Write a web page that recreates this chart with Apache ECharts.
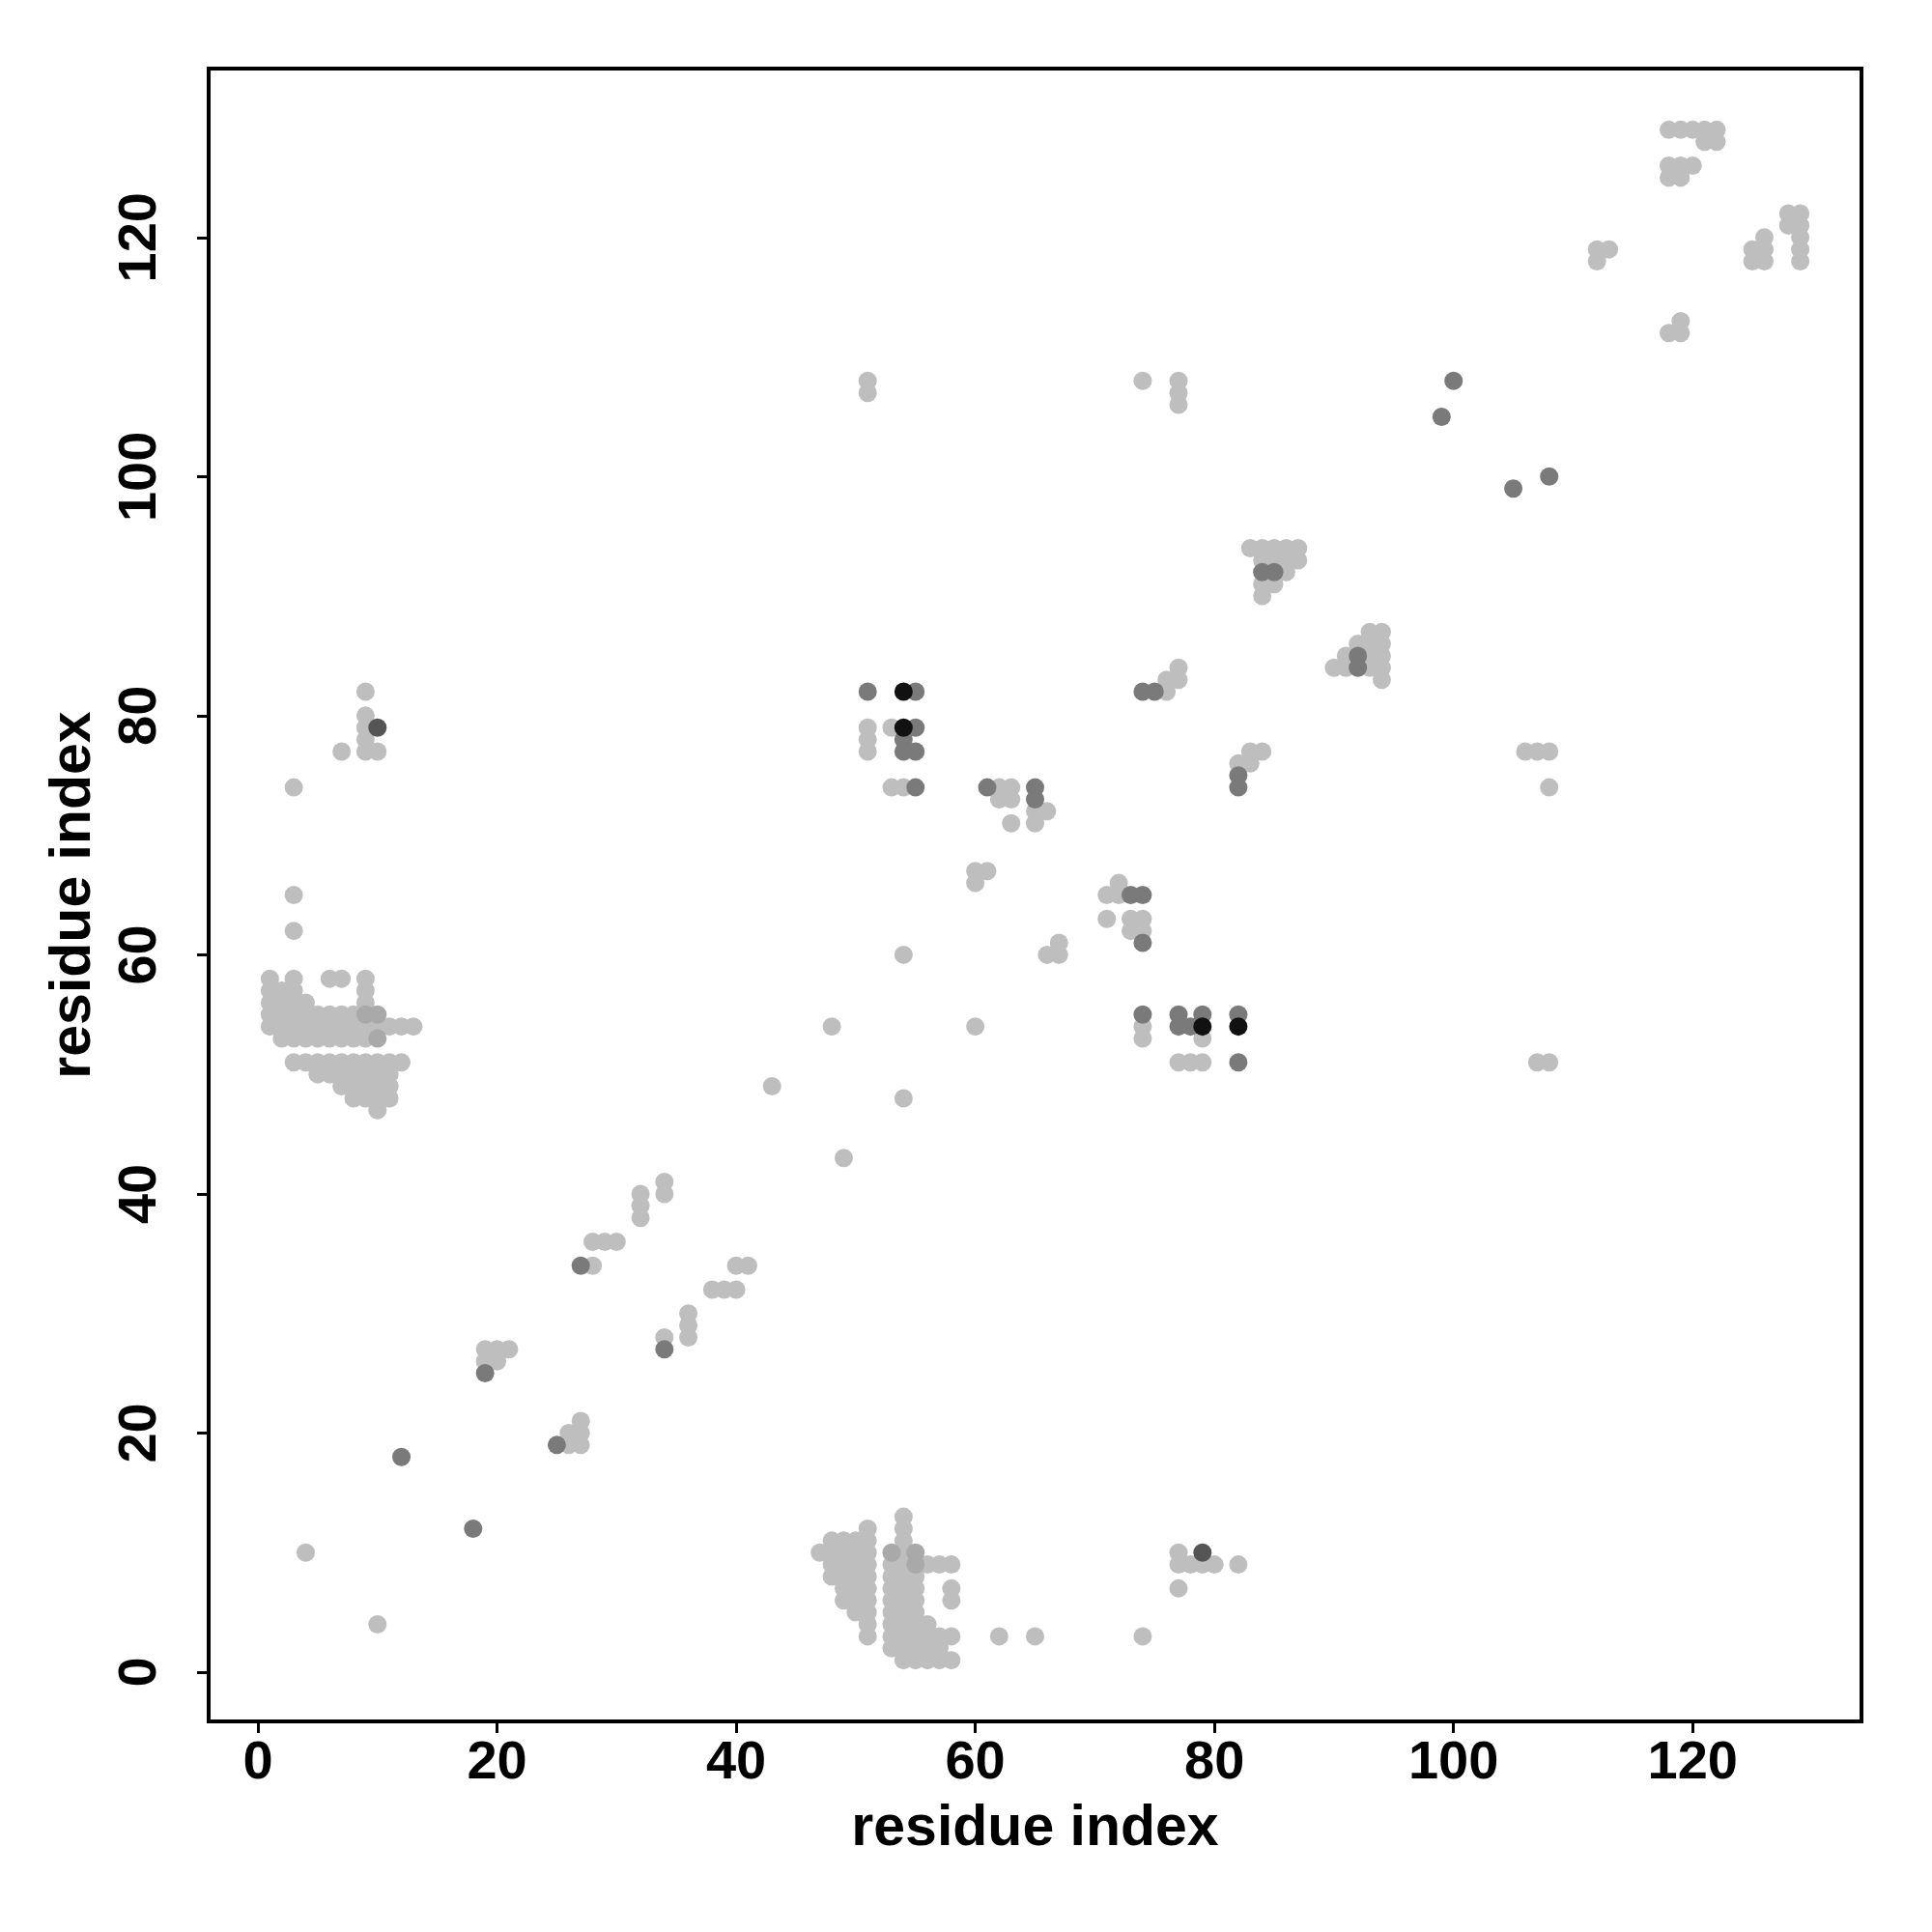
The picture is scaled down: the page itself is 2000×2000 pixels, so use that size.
<!DOCTYPE html>
<html>
<head>
<meta charset="utf-8">
<script src="https://cdn.jsdelivr.net/npm/echarts@6/dist/echarts.min.js"></script>
<style>html,body{margin:0;padding:0;background:#fff}#c{width:2000px;height:2000px}</style>
</head>
<body>
<div id="c"></div>
<script>
// Tick labels
const xTicks = [0, 20, 40, 60, 80, 100, 120];
const yTicks = [0, 20, 40, 60, 80, 100, 120];

// Light grey contacts [residue i, residue j]
const lightPts = [
  // lower-left cluster
  [1,58],[3,58],[6,58],[7,58],[9,58],
  [1,57],[2,57],[3,57],[9,57],
  [1,56],[2,56],[3,56],[4,56],[9,56],
  [1,55],[2,55],[3,55],[4,55],[5,55],[6,55],[7,55],[8,55],
  [1,54],[2,54],[3,54],[4,54],[5,54],[6,54],[7,54],[8,54],[9,54],[10,54],[11,54],[12,54],[13,54],
  [2,53],[3,53],[4,53],[5,53],[6,53],[7,53],[8,53],[9,53],
  [3,51],[4,51],[5,51],[6,51],[7,51],[8,51],[9,51],[10,51],[11,51],[12,51],
  [5,50],[6,50],[7,50],[8,50],[9,50],[10,50],[11,50],
  [7,49],[8,49],[9,49],[10,49],[11,49],
  [8,48],[9,48],[10,48],[11,48],
  [10,47],
  [3,62],[3,65],[3,74],[7,77],[9,77],[9,78],[9,79],[9,80],[9,82],[10,77],
  [4,10],[10,4],
  // diagonal
  [26,19],[26,20],[27,19],[27,20],[27,21],[19,26],[20,26],[19,27],[20,27],[21,27],
  [28,34],[28,36],[29,36],[30,36],[32,38],[32,39],[32,40],[34,40],[34,41],
  [34,28],[36,28],[36,29],[36,30],[38,32],[39,32],[40,32],[40,34],[41,34],
  [43,49],[49,43],[48,54],[54,48],[54,60],[60,54],
  // bottom cluster
  [47,10],
  [48,8],[48,9],[48,10],[48,11],
  [49,6],[49,7],[49,8],[49,9],[49,10],[49,11],
  [50,5],[50,6],[50,7],[50,8],[50,9],[50,10],[50,11],
  [51,3],[51,4],[51,5],[51,6],[51,7],[51,8],[51,9],[51,10],[51,11],[51,12],
  [53,2],[53,3],[53,4],[53,5],[53,6],[53,7],[53,8],[53,9],
  [54,1],[54,2],[54,3],[54,4],[54,5],[54,6],[54,7],[54,8],[54,9],[54,10],[54,11],[54,12],[54,13],
  [55,1],[55,2],[55,3],[55,4],[55,5],[55,6],[55,7],[55,8],
  [56,1],[56,2],[56,3],[56,4],[56,9],
  [57,1],[57,2],[57,3],[57,9],
  [58,1],[58,3],[58,6],[58,7],[58,9],
  [62,3],[65,3],[74,3],[77,7],[77,9],[77,10],[78,9],[79,9],[80,9],[82,9],
  // middle
  [51,77],[51,78],[51,79],[53,79],[53,74],[54,74],
  [62,74],[63,74],[62,73],[63,73],[65,72],[66,72],[63,71],[65,71],
  [60,67],[61,67],[60,66],[66,60],[67,60],[67,61],
  [51,107],[51,108],[74,108],[77,106],[77,107],[77,108],
  [71,65],[72,65],[72,66],[71,63],[73,63],[74,63],[73,62],[74,62],
  [74,54],[74,53],[79,53],[77,51],[78,51],[79,51],
  [76,82],[76,83],[77,83],[77,84],
  [82,76],[83,76],[83,77],[84,77],
  [83,94],[84,94],[85,94],[86,94],[87,94],[84,93],[85,93],[86,93],[87,93],[86,92],[84,91],[85,91],[84,90],
  [93,87],[94,87],[92,86],[93,86],[94,86],[91,85],[93,85],[94,85],[90,84],[91,84],[93,84],[94,84],[94,83],
  // upper right
  [118,129],[119,129],[120,129],[121,129],[122,129],[121,128],[122,128],
  [118,126],[119,126],[120,126],[118,125],[119,125],
  [112,119],[113,119],[112,118],
  [125,119],[126,119],[125,118],[126,118],[126,120],
  [128,122],[129,122],[128,121],[129,121],[129,120],[129,119],[129,118],
  [119,113],[118,112],[119,112],
  [106,77],[107,77],[108,77],[108,74],[107,51],[108,51]
];

// slightly darker light grey
const paleMidPts = [[9,55],[10,55],[10,53],[53,10],[55,10],[55,9]];

// medium grey
const midPts = [
  [12,18],[18,12],[25,19],[19,25],[27,34],[34,27],
  [51,82],[55,82],[55,79],[54,78],[54,77],[55,77],[55,74],[61,74],[65,74],[65,73],
  [74,82],[75,82],[82,74],[82,75],
  [73,65],[74,65],[74,61],
  [74,55],[77,55],[77,54],[78,54],[79,55],[82,55],[82,51],
  [84,92],[85,92],[92,85],[92,84],
  [99,105],[100,108],[105,99],[108,100]
];

// dark grey
const darkPts = [[10,79],[79,10]];

// near black
const blackPts = [[54,82],[54,79],[79,54],[82,54]];

const FONT = '"Liberation Sans", Arial, Helvetica, sans-serif';

function series(data, color) {
  return {
    type: 'scatter',
    data: data,
    symbol: 'circle',
    symbolSize: 19,
    itemStyle: { color: color, opacity: 1 },
    emphasis: { disabled: true },
    animation: false
  };
}

const chart = echarts.init(document.getElementById('c'), null, { renderer: 'canvas' });
chart.setOption({
  backgroundColor: '#ffffff',
  animation: false,
  grid: {
    left: 216, right: 73, top: 71, bottom: 218,
    show: true, borderColor: '#000', borderWidth: 4, backgroundColor: 'transparent'
  },
  xAxis: {
    type: 'value', min: -4.12, max: 134.12,
    axisLine: { show: false, onZero: false },
    axisTick: { show: true, inside: false, length: 12, customValues: xTicks, lineStyle: { color: '#000', width: 3 } },
    axisLabel: { customValues: xTicks, fontSize: 56, fontWeight: 'bold', fontFamily: FONT, color: '#000', margin: 16 },
    splitLine: { show: false },
    name: 'residue index', nameLocation: 'middle', nameGap: 82,
    nameTextStyle: { fontSize: 59, fontWeight: 'bold', fontFamily: FONT, color: '#000' }
  },
  yAxis: {
    type: 'value', min: -4.12, max: 134.12,
    axisLine: { show: false, onZero: false },
    axisTick: { show: true, inside: false, length: 12, customValues: yTicks, lineStyle: { color: '#000', width: 3 } },
    axisLabel: { customValues: yTicks, rotate: 90, fontSize: 56, fontWeight: 'bold', fontFamily: FONT, color: '#000', margin: 42 },
    splitLine: { show: false },
    name: 'residue index', nameLocation: 'middle', nameGap: 110,
    nameTextStyle: { fontSize: 59, fontWeight: 'bold', fontFamily: FONT, color: '#000' }
  },
  series: [
    series(lightPts, '#bebebe'),
    series(paleMidPts, '#a9a9a9'),
    series(midPts, '#7a7a7a'),
    series(darkPts, '#555555'),
    series(blackPts, '#111111')
  ]
});
</script>
</body>
</html>
